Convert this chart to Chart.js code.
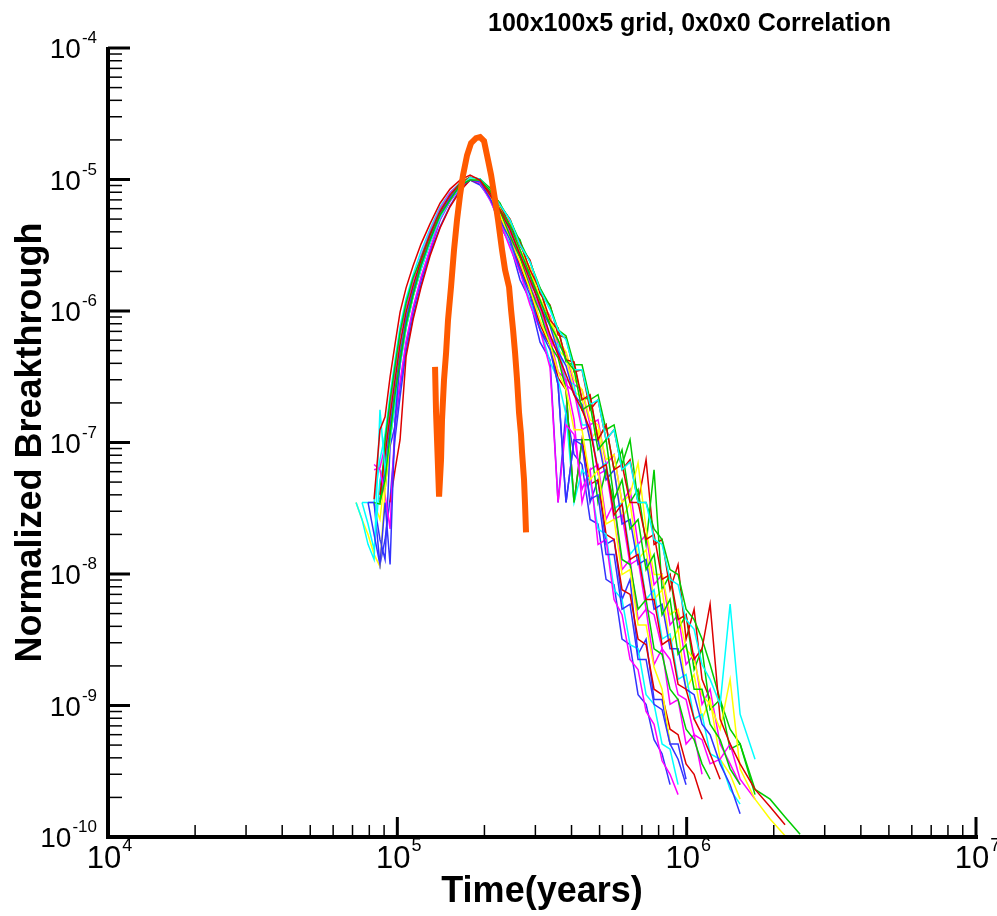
<!DOCTYPE html>
<html>
<head>
<meta charset="utf-8">
<script src="https://cdn.jsdelivr.net/npm/chart.js@4.4.0/dist/chart.umd.min.js"></script>
<style>
html,body{margin:0;padding:0;background:#fff;}
#wrap{width:997px;height:916px;}
</style>
</head>
<body>
<div id="wrap"><canvas id="c" width="997" height="916"></canvas></div>
<script>
// ---------- DATA ----------
const chartTitle = '100x100x5 grid, 0x0x0 Correlation';
const xTitle = 'Time(years)';
const yTitle = 'Normalized Breakthrough';
const xDecades = [4, 5, 6, 7];
const yDecades = [-10, -9, -8, -7, -6, -5, -4];

// shared time grid (years) for the ensemble realizations
const times = [7.20e4, 7.55e4, 7.92e4, 8.31e4, 8.71e4, 9.07e4, 9.44e4, 9.82e4, 1.022e5, 1.072e5,
  1.133e5, 1.208e5, 1.297e5, 1.405e5, 1.521e5, 1.647e5, 1.784e5, 1.932e5, 2.091e5, 2.265e5,
  2.453e5, 2.656e5, 2.875e5, 3.113e5, 3.372e5, 3.594e5, 3.829e5, 4.081e5, 4.349e5, 4.636e5,
  4.939e5, 5.265e5, 5.611e5, 5.979e5, 6.373e5, 6.792e5, 7.239e5, 7.714e5, 8.222e5, 8.762e5,
  9.339e5, 9.952e5, 1.061e6, 1.130e6, 1.205e6, 1.305e6, 1.413e6, 1.530e6, 1.723e6, 1.942e6,
  2.188e6, 2.466e6];

// each realization: first index into the time grid, then its values
const r1Start = 3;
const r1 = [3.7e-8, 1.25e-7, 1.57e-7, 3.15e-7, 5.6e-7, 9.8e-7, 1.5e-6, 2.2e-6, 3.24e-6, 4.6e-6, 6.6e-6, 8.45e-6, 9.9e-6, 1.08e-5, 9.9e-6, 7.61e-6, 5.86e-6, 4.13e-6, 2.67e-6, 1.72e-6, 1.11e-6, 6.58e-7, 4.64e-7, 3.27e-7, 2.31e-7, 1.77e-7, 1.25e-7, 6.2e-8, 6.8e-8, 2.8e-8, 3.4e-8, 1.29e-8, 1.41e-8, 6.4e-9, 6.4e-9, 2.9e-9, 3.2e-9, 1.45e-9, 1.33e-9, 7.9e-10, 6.0e-10, 4.3e-10, 2.75e-10];
const r2Start = 4;
const r2 = [3.5e-8, 5.2e-8, 1.15e-7, 2.31e-7, 4.25e-7, 7.84e-7, 1.32e-6, 2.24e-6, 3.47e-6, 5.37e-6, 6.97e-6, 9.07e-6, 9.9e-6, 9.9e-6, 8.31e-6, 5.86e-6, 4.5e-6, 2.91e-6, 1.88e-6, 1.21e-6, 7.84e-7, 6.03e-7, 4.25e-7, 3.57e-7, 1.77e-7, 1.94e-7, 8.8e-8, 1.05e-7, 3.7e-8, 5.2e-8, 2.2e-8, 2.6e-8, 1.08e-8, 1.41e-8, 4.9e-9, 6.4e-9, 2.45e-9, 2.9e-9, 1.33e-9, 1.33e-9, 7.2e-10, 5.5e-10, 3.3e-10, 2.5e-10];
const r3Start = 2;
const r3 = [3.5e-8, 2.0e-8, 1.18e-8, 3.5e-8, 1.18e-8, 1.49e-7, 4.1e-7, 8.3e-7, 1.37e-6, 2.24e-6, 3.47e-6, 5.37e-6, 7.2e-6, 8.9e-6, 9.9e-6, 9.6e-6, 7.2e-6, 4.92e-6, 3.47e-6, 2.05e-6, 1.32e-6, 7.19e-7, 5.07e-7, 2.75e-7, 3.5e-8, 1.05e-7, 9.6e-8, 3.7e-8, 4.0e-8, 1.41e-8, 1.41e-8, 5.4e-9, 5.9e-9, 2.24e-9, 2.24e-9, 1.02e-9, 9.3e-10, 5.1e-10, 3.9e-10, 2.5e-10];
const r4Start = 0;
const r4 = [3.5e-8, 2.6e-8, 1.68e-8, 1.29e-8, 1.77e-7, 6.2e-8, 1.05e-7, 2.0e-7, 3.9e-7, 7.4e-7, 1.28e-6, 2.09e-6, 3.3e-6, 5.1e-6, 6.97e-6, 8.8e-6, 1.03e-5, 1.01e-5, 8.31e-6, 6.39e-6, 4.92e-6, 3.18e-6, 2.36e-6, 1.45e-6, 1.02e-6, 7.19e-7, 6.03e-7, 3.57e-7, 3.57e-7, 1.94e-7, 2.11e-7, 1.05e-7, 1.25e-7, 6.2e-8, 7.1e-8, 3.5e-8, 3.5e-8, 1.83e-8, 1.68e-8, 9.1e-9, 8.3e-9, 4.5e-9, 3.8e-9, 2.05e-9, 1.58e-9, 1.02e-9, 5.9e-9, 8.6e-10, 3.9e-10];
const r5Start = 0;
const r5 = [3.5e-8, 2.6e-8, 2.0e-8, 1.41e-8, 1.14e-8, 4.4e-8, 1.05e-7, 2.11e-7, 4.1e-7, 7.7e-7, 1.3e-6, 2.13e-6, 3.35e-6, 5.2e-6, 7.1e-6, 8.9e-6, 1.03e-5, 9.6e-6, 7.5e-6, 5.37e-6, 3.47e-6, 2.36e-6, 1.45e-6, 8.56e-7, 5.53e-7, 3.45e-7, 2.52e-7, 1.25e-7, 1.25e-7, 5.2e-8, 6.2e-8, 2.4e-8, 2.6e-8, 9.9e-9, 1.08e-8, 4.1e-9, 4.1e-9, 1.95e-9, 1.33e-9, 5.1e-10];
const r6Start = 3;
const r6 = [6.8e-8, 6.2e-8, 4.0e-8, 2.2e-8, 1.49e-7, 2.9e-7, 5.9e-7, 1.06e-6, 1.82e-6, 2.96e-6, 5.0e-6, 6.85e-6, 8.8e-6, 1.01e-5, 9.4e-6, 6.97e-6, 4.75e-6, 3.02e-6, 1.98e-6, 1.11e-6, 7.19e-7, 3.7e-7, 3.5e-8, 1.36e-7, 1.15e-7, 4.4e-8, 6.2e-8, 1.68e-8, 1.83e-8, 6.4e-9, 4.9e-9, 2.24e-9, 1.88e-9, 9.0e-10, 7.2e-10, 3.8e-10, 3.0e-10, 2.1e-10];
const r7Start = 4;
const r7 = [4.0e-8, 8.1e-8, 1.6e-7, 3.0e-7, 5.6e-7, 9.8e-7, 1.55e-6, 2.44e-6, 3.78e-6, 5.66e-6, 7.61e-6, 9.2e-6, 1.04e-5, 9.9e-6, 8.0e-6, 6.39e-6, 4.43e-6, 3.3e-6, 2.05e-6, 1.45e-6, 8.56e-7, 7.19e-7, 4.25e-7, 4.1e-7, 2.11e-7, 2.31e-7, 1.05e-7, 1.36e-7, 6.2e-8, 6.8e-8, 3.5e-8, 3.5e-8, 1.83e-8, 2.0e-8, 9.1e-9, 9.9e-9, 4.5e-9, 4.9e-9, 2.24e-9, 2.7e-9, 5.9e-9, 7.9e-10, 5.1e-10, 3.6e-10, 2.3e-10, 1.7e-10, 1.24e-10];
const r8Start = 3;
const r8 = [3.5e-8, 3.4e-8, 1.03e-7, 2.08e-7, 3.83e-7, 6.9e-7, 1.15e-6, 1.78e-6, 2.53e-6, 3.85e-6, 5.76e-6, 7.61e-6, 9.4e-6, 1.04e-5, 9.7e-6, 7.61e-6, 5.66e-6, 3.71e-6, 2.53e-6, 1.5e-6, 9.8e-7, 5.53e-7, 4.4e-7, 2.52e-7, 3.5e-8, 1.05e-7, 1.05e-7, 3.5e-8, 6.2e-8, 3.5e-8, 1.29e-8, 1.18e-8, 5.4e-9, 6.4e-9, 2.7e-9, 2.45e-9, 1.33e-9, 1.11e-9, 6.6e-10, 5.5e-10, 3.6e-10, 2.75e-10];
const r9Start = 4;
const r9 = [3.7e-8, 6.2e-8, 1.3e-7, 2.48e-7, 4.64e-7, 8.56e-7, 1.4e-6, 2.28e-6, 3.53e-6, 5.37e-6, 7.2e-6, 9.07e-6, 1.03e-5, 9.9e-6, 8.0e-6, 5.66e-6, 4.28e-6, 2.62e-6, 1.85e-6, 1.09e-6, 7.7e-7, 4.9e-7, 3.83e-7, 2.31e-7, 1.94e-7, 1.05e-7, 1.05e-7, 5.2e-8, 6.2e-8, 2.4e-8, 2.6e-8, 1.18e-8, 1.29e-8, 5.4e-9, 5.9e-9, 2.7e-9, 2.7e-9, 1.33e-9, 1.21e-9, 7.2e-10, 6.0e-10, 3.6e-10, 2.5e-10, 1.5e-10];
const r10Start = 1;
const r10 = [3.5e-8, 2.4e-8, 1.53e-8, 5.2e-8, 7.4e-8, 1.49e-7, 2.85e-7, 5.35e-7, 9.5e-7, 1.52e-6, 2.4e-6, 3.71e-6, 5.66e-6, 7.5e-6, 9.2e-6, 1.03e-5, 9.4e-6, 6.97e-6, 4.92e-6, 3.12e-6, 2.05e-6, 1.17e-6, 7.45e-7, 4.1e-7, 3.0e-7, 1.63e-7, 3.5e-8, 6.2e-8, 5.2e-8, 2.2e-8, 2.0e-8, 7.6e-9, 6.4e-9, 2.9e-9, 2.7e-9, 1.21e-9, 1.02e-9, 5.1e-10, 4.65e-10, 2.5e-10];
const r11Start = 4;
const r11 = [4.0e-8, 6.8e-8, 1.36e-7, 2.6e-7, 4.9e-7, 8.9e-7, 1.45e-6, 2.32e-6, 3.6e-6, 5.47e-6, 7.3e-6, 9.07e-6, 1.03e-5, 9.9e-6, 8.31e-6, 6.08e-6, 4.5e-6, 2.91e-6, 2.13e-6, 1.25e-6, 8.9e-7, 6.03e-7, 4.9e-7, 3.0e-7, 2.52e-7, 1.49e-7, 1.36e-7, 7.4e-8, 8.1e-8, 3.5e-8, 4.0e-8, 7.0e-8, 2.2e-8, 9.9e-9, 9.9e-9, 4.9e-9, 5.4e-9, 2.7e-9, 2.24e-9, 1.21e-9, 1.02e-9, 6.6e-10, 1.58e-9, 3.3e-10, 1.94e-10, 1.37e-10, 1.02e-10];
const r12Start = 3;
const r12 = [6.2e-8, 6.4e-8, 9.5e-8, 1.87e-7, 3.5e-7, 6.5e-7, 1.07e-6, 1.69e-6, 2.62e-6, 4.0e-6, 5.97e-6, 7.9e-6, 9.4e-6, 1.03e-5, 9.7e-6, 7.5e-6, 5.86e-6, 3.71e-6, 2.67e-6, 1.55e-6, 1.05e-6, 6.03e-7, 4.9e-7, 2.75e-7, 2.44e-7, 1.25e-7, 1.36e-7, 5.7e-8, 6.2e-8, 2.6e-8, 2.8e-8, 1.18e-8, 1.29e-8, 5.4e-9, 4.9e-9, 2.7e-9, 2.24e-9, 1.21e-9, 1.11e-9, 6.0e-10, 5.5e-10, 3.6e-10, 3.9e-10, 5.1e-10, 2.75e-10, 1.94e-10];
const r13Start = 5;
const r13 = [4.4e-8, 1.05e-7, 2.0e-7, 3.9e-7, 7.45e-7, 1.28e-6, 2.09e-6, 3.3e-6, 5.1e-6, 6.97e-6, 8.8e-6, 1.03e-5, 1.01e-5, 8.6e-6, 6.5e-6, 4.92e-6, 3.35e-6, 2.36e-6, 1.5e-6, 1.09e-6, 7.19e-7, 6.46e-7, 3.9e-7, 3.9e-7, 2.11e-7, 2.31e-7, 1.25e-7, 1.36e-7, 6.8e-8, 1.05e-7, 3.5e-8, 3.5e-8, 2.2e-8, 1.83e-8, 1.08e-8, 9.9e-9, 5.4e-9, 4.5e-9, 3.2e-9, 2.05e-9, 1.11e-9, 6.6e-10, 5.1e-10, 2.3e-10, 1.94e-10, 1.42e-10, 1.05e-10];
const r14Start = 6;
const r14 = [3.5e-8, 6.2e-8, 1.05e-7, 4.5e-7, 8.56e-7, 1.52e-6, 2.62e-6, 4.28e-6, 6.2e-6, 8.15e-6, 9.9e-6, 9.4e-6, 7.5e-6, 5.1e-6, 3.6e-6, 2.13e-6, 1.45e-6, 7.84e-7, 5.53e-7, 3.1e-7, 2.52e-7, 3.5e-8, 1.05e-7, 4.8e-8, 5.2e-8, 2.0e-8, 1.83e-8, 7.6e-9, 7.0e-9, 3.2e-9, 2.9e-9, 1.33e-9, 1.21e-9, 6.6e-10, 6.0e-10, 3.6e-10, 3.0e-10, 1.94e-10];
const r15Start = 2;
const r15 = [3.5e-8, 3.5e-8, 1.83e-8, 1.29e-8, 9.4e-8, 1.34e-7, 2.65e-7, 5.53e-7, 1.0e-6, 1.72e-6, 2.86e-6, 4.92e-6, 6.85e-6, 8.6e-6, 1.01e-5, 9.2e-6, 7.61e-6, 4.75e-6, 3.6e-6, 1.98e-6, 1.45e-6, 7.19e-7, 5.53e-7, 2.75e-7, 3.5e-8, 1.05e-7, 1.05e-7, 3.5e-8, 5.2e-8, 1.68e-8, 1.83e-8, 6.4e-9, 9.1e-9, 2.45e-9, 3.2e-9, 1.11e-9, 1.11e-9, 5.1e-10, 5.1e-10, 2.75e-10];
const r16Start = 4;
const r16 = [3.5e-8, 6.1e-8, 1.23e-7, 2.35e-7, 4.46e-7, 8.27e-7, 1.37e-6, 2.24e-6, 3.47e-6, 5.28e-6, 7.2e-6, 8.9e-6, 1.03e-5, 9.4e-6, 7.9e-6, 5.1e-6, 3.92e-6, 2.2e-6, 1.61e-6, 8.27e-7, 6.25e-7, 3.45e-7, 3.0e-7, 1.49e-7, 3.5e-8, 6.2e-8, 6.8e-8, 2.6e-8, 3.5e-8, 1.08e-8, 1.29e-8, 4.5e-9, 5.4e-9, 2.05e-9, 2.7e-9, 1.02e-9, 1.11e-9, 5.1e-10, 6.0e-10, 3.0e-10];
const r17Start = 1;
const r17 = [3.5e-8, 3.5e-8, 3.5e-8, 7.4e-8, 1.15e-7, 2.31e-7, 4.25e-7, 7.6e-7, 1.24e-6, 1.88e-6, 2.86e-6, 4.2e-6, 6.2e-6, 8.0e-6, 9.4e-6, 1.04e-5, 9.9e-6, 7.61e-6, 6.08e-6, 3.85e-6, 2.91e-6, 1.61e-6, 1.21e-6, 6.25e-7, 5.53e-7, 3.0e-7, 2.75e-7, 1.36e-7, 1.36e-7, 6.2e-8, 7.0e-8, 3.1e-8, 3.5e-8, 1.41e-8, 1.68e-8, 6.4e-9, 7.6e-9, 3.2e-9, 3.5e-9, 1.58e-9, 1.72e-9, 7.9e-10, 8.6e-10, 4.3e-10, 3.9e-10, 2.3e-10, 1.78e-10];
const r18Start = 3;
const r18 = [3.5e-8, 2.6e-8, 5.7e-8, 1.17e-7, 2.22e-7, 4.25e-7, 8.0e-7, 1.32e-6, 2.16e-6, 3.4e-6, 5.28e-6, 7.1e-6, 8.9e-6, 1.03e-5, 9.7e-6, 8.31e-6, 5.66e-6, 4.6e-6, 2.62e-6, 2.05e-6, 1.09e-6, 8.56e-7, 5.07e-7, 4.4e-7, 2.44e-7, 2.2e-7, 1.05e-7, 1.25e-7, 5.2e-8, 6.2e-8, 2.6e-8, 3.5e-8, 1.29e-8, 1.53e-8, 6.4e-9, 7.6e-9, 2.9e-9, 3.8e-9, 1.33e-9, 1.72e-9, 7.9e-10, 1.11e-9, 3.9e-10, 3.0e-10, 1.94e-10];
const r19Start = 4;
const r19 = [4.7e-8, 7.1e-8, 1.44e-7, 2.75e-7, 5.16e-7, 9.2e-7, 1.47e-6, 2.36e-6, 3.65e-6, 5.57e-6, 7.5e-6, 9.07e-6, 1.03e-5, 1.01e-5, 8.0e-6, 6.6e-6, 4.28e-6, 3.47e-6, 1.91e-6, 1.5e-6, 7.84e-7, 7.45e-7, 4.1e-7, 3.9e-7, 2.11e-7, 2.2e-7, 1.05e-7, 1.36e-7, 6.2e-8, 8.8e-8, 3.5e-8, 4.4e-8, 1.68e-8, 6.2e-8, 7.6e-9, 9.9e-9, 3.8e-9, 4.9e-9, 1.88e-9, 2.7e-9, 9.3e-10, 1.11e-9, 4.65e-10, 5.1e-10, 2.1e-10];
const r20Start = 5;
const r20 = [5.4e-8, 1.11e-7, 2.11e-7, 4.1e-7, 7.7e-7, 1.3e-6, 2.13e-6, 3.35e-6, 5.2e-6, 7.1e-6, 8.9e-6, 1.03e-5, 9.9e-6, 8.6e-6, 6.3e-6, 5.0e-6, 3.12e-6, 2.44e-6, 1.35e-6, 1.11e-6, 6.58e-7, 6.25e-7, 3.45e-7, 3.57e-7, 1.77e-7, 2.11e-7, 1.05e-7, 1.25e-7, 6.2e-8, 7.4e-8, 3.5e-8, 7.4e-8, 1.68e-8, 1.83e-8, 7.6e-9, 1.18e-8, 3.2e-9, 5.4e-9, 1.58e-9, 1.11e-9];
const r21Start = 3;
const r21 = [3.5e-8, 1.18e-8, 1.83e-8, 3.7e-8, 1.08e-7, 2.22e-7, 4.9e-7, 9.0e-7, 1.58e-6, 2.72e-6, 4.36e-6, 6.3e-6, 8.31e-6, 9.9e-6, 9.07e-6, 7.2e-6, 4.43e-6, 3.24e-6, 1.72e-6, 1.21e-6, 5.8e-7, 4.25e-7, 3.5e-8, 1.77e-7, 8.1e-8, 6.8e-8, 2.6e-8, 2.4e-8, 9.1e-9, 8.3e-9, 3.2e-9, 2.9e-9, 1.21e-9, 1.02e-9, 5.5e-10, 4.3e-10, 2.5e-10];
const r22Start = 4;
const r22 = [5.0e-8, 7.5e-8, 1.52e-7, 2.9e-7, 5.35e-7, 9.5e-7, 1.52e-6, 2.4e-6, 3.71e-6, 5.66e-6, 7.5e-6, 9.2e-6, 1.03e-5, 9.6e-6, 8.45e-6, 5.66e-6, 4.75e-6, 2.81e-6, 2.13e-6, 1.17e-6, 9.2e-7, 5.53e-7, 4.81e-7, 2.75e-7, 2.52e-7, 1.36e-7, 1.49e-7, 6.8e-8, 8.1e-8, 3.5e-8, 4.4e-8, 1.68e-8, 2.0e-8, 8.3e-9, 9.9e-9, 4.1e-9, 4.9e-9, 2.05e-9, 2.45e-9, 1.02e-9, 1.33e-9, 5.1e-10, 3.6e-10, 2.5e-10];

// thick orange curve
const orangeTimes = [1.350e5, 1.361e5, 1.394e5, 1.416e5, 1.427e5, 1.450e5, 1.474e5, 1.497e5, 1.533e5, 1.570e5,
  1.608e5, 1.647e5, 1.687e5, 1.742e5, 1.798e5, 1.871e5, 1.932e5, 1.994e5, 2.059e5, 2.109e5,
  2.177e5, 2.229e5, 2.301e5, 2.357e5, 2.433e5, 2.472e5, 2.512e5, 2.552e5, 2.593e5, 2.634e5,
  2.676e5, 2.698e5, 2.741e5, 2.763e5, 2.785e5];
const orangeValues = [3.76e-7, 1.68e-7, 3.88e-8, 7.4e-8, 1.49e-7, 3.0e-7, 4.81e-7, 8.56e-7, 1.52e-6, 2.91e-6,
  4.92e-6, 7.61e-6, 1.08e-5, 1.53e-5, 1.89e-5, 2.06e-5, 2.10e-5, 1.96e-5, 1.40e-5, 1.08e-5,
  6.97e-6, 4.92e-6, 2.91e-6, 2.05e-6, 1.52e-6, 1.02e-6, 7.19e-7, 4.81e-7, 3.0e-7, 1.68e-7,
  1.15e-7, 8.4e-8, 5.2e-8, 3.4e-8, 2.07e-8];

// ---------- STYLE ----------
const FONT = '"Liberation Sans", Arial, Helvetica, sans-serif';
const RED = '#dd0000', GREEN = '#00cc00', BLUE = '#3333ff', CYAN = '#00ffff', YELLOW = '#ffff00', MAGENTA = '#ff00ff';
const realizations = [
  [r1Start, r1, RED], [r2Start, r2, GREEN], [r3Start, r3, BLUE], [r4Start, r4, CYAN],
  [r5Start, r5, YELLOW], [r6Start, r6, MAGENTA], [r7Start, r7, RED], [r8Start, r8, GREEN],
  [r9Start, r9, BLUE], [r10Start, r10, CYAN], [r11Start, r11, YELLOW], [r12Start, r12, MAGENTA],
  [r13Start, r13, GREEN], [r14Start, r14, RED], [r15Start, r15, BLUE], [r16Start, r16, MAGENTA],
  [r17Start, r17, CYAN], [r18Start, r18, YELLOW], [r19Start, r19, GREEN], [r20Start, r20, RED],
  [r21Start, r21, BLUE], [r22Start, r22, MAGENTA]
];

const datasets = [{
  data: orangeTimes.map((t, i) => ({x: t, y: orangeValues[i]})),
  borderColor: '#ff5a00', borderWidth: 6, pointRadius: 0, tension: 0, fill: false
}];
realizations.forEach(([start, vals, col]) => {
  datasets.push({
    data: vals.map((v, i) => ({x: times[start + i], y: v})),
    borderColor: col, borderWidth: 1.5, pointRadius: 0, tension: 0, fill: false
  });
});

const tecAxes = {
  id: 'tecAxes',
  afterDraw(chart) {
    const {ctx, chartArea: a, scales: {x, y}} = chart;
    ctx.save();
    ctx.strokeStyle = '#000';
    ctx.fillStyle = '#000';
    ctx.lineCap = 'butt';
    // axis lines
    ctx.lineWidth = 4;
    ctx.beginPath();
    ctx.moveTo(a.left, a.top - 1);
    ctx.lineTo(a.left, a.bottom);
    ctx.lineTo(a.right + 2, a.bottom);
    ctx.stroke();
    // y ticks
    yDecades.forEach(d => {
      const py = y.getPixelForValue(Math.pow(10, d));
      ctx.lineWidth = 3;
      ctx.beginPath(); ctx.moveTo(a.left, py); ctx.lineTo(a.left + 22, py); ctx.stroke();
      if (d < -4) {
        ctx.lineWidth = 1.5;
        for (let k = 2; k <= 9; k++) {
          const p = y.getPixelForValue(k * Math.pow(10, d));
          ctx.beginPath(); ctx.moveTo(a.left, p); ctx.lineTo(a.left + 14, p); ctx.stroke();
        }
      }
    });
    // x ticks
    xDecades.forEach(d => {
      const px = x.getPixelForValue(Math.pow(10, d));
      ctx.lineWidth = 3;
      ctx.beginPath(); ctx.moveTo(px, a.bottom); ctx.lineTo(px, a.bottom - 20); ctx.stroke();
      if (d < 7) {
        ctx.lineWidth = 1.5;
        for (let k = 2; k <= 9; k++) {
          const p = x.getPixelForValue(k * Math.pow(10, d));
          ctx.beginPath(); ctx.moveTo(p, a.bottom); ctx.lineTo(p, a.bottom - 12); ctx.stroke();
        }
      }
    });
    // y tick labels
    yDecades.forEach(d => {
      const py = y.getPixelForValue(Math.pow(10, d));
      const ex = String(d);
      ctx.textAlign = 'right';
      ctx.textBaseline = 'alphabetic';
      ctx.font = '17px ' + FONT;
      const ew = ctx.measureText(ex).width;
      ctx.fillText(ex, 97, py - 5);
      ctx.font = '28px ' + FONT;
      ctx.fillText('10', 97 - ew - 1, py + 10);
    });
    // x tick labels
    xDecades.forEach(d => {
      const px = x.getPixelForValue(Math.pow(10, d)) - 4;
      ctx.textBaseline = 'alphabetic';
      ctx.font = '31px ' + FONT;
      const w = ctx.measureText('10').width;
      ctx.textAlign = 'center';
      ctx.fillText('10', px, 868);
      ctx.font = '18px ' + FONT;
      ctx.textAlign = 'left';
      ctx.fillText(String(d), px + w / 2 + 1, 851);
    });
    // chart title
    ctx.font = 'bold 25px ' + FONT;
    ctx.textAlign = 'left';
    ctx.fillText(chartTitle, 488, 31);
    ctx.restore();
  }
};

new Chart(document.getElementById('c'), {
  type: 'line',
  data: {datasets},
  options: {
    responsive: false,
    animation: false,
    devicePixelRatio: 1,
    spanGaps: true,
    layout: {padding: {top: 48, right: 21, left: 0, bottom: 0}},
    plugins: {legend: {display: false}, tooltip: {enabled: false}, title: {display: false}},
    scales: {
      x: {
        type: 'logarithmic', min: 1e4, max: 1e7,
        grid: {display: false}, border: {display: false}, ticks: {display: false},
        title: {display: true, text: xTitle, color: '#000', font: {family: FONT, size: 36, weight: 'bold'}, padding: {top: 0, bottom: 2}},
        afterFit: s => { s.height = 79; }
      },
      y: {
        type: 'logarithmic', min: 1e-10, max: 1e-4,
        grid: {display: false}, border: {display: false}, ticks: {display: false},
        title: {display: true, text: yTitle, color: '#000', font: {family: FONT, size: 36, weight: 'bold'}, padding: {top: 9, bottom: 0}},
        afterFit: s => { s.width = 108; }
      }
    }
  },
  plugins: [tecAxes]
});
</script>
</body>
</html>
